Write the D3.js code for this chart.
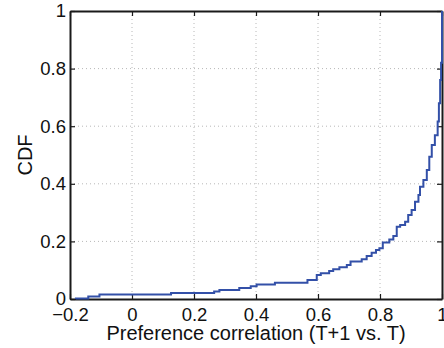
<!DOCTYPE html>
<html>
<head>
<meta charset="utf-8">
<script src="https://cdn.jsdelivr.net/npm/d3@7"></script>
<style>
  body { margin: 0; background: #fff; }
  svg { display: block; font-family: "Liberation Sans", Arial, sans-serif; }
</style>
</head>
<body>
<svg id="chart" width="444" height="348"></svg>
<script>
// correlation value at each step of the empirical CDF, and the CDF after that step
var corr = [-0.181, -0.141, -0.105, 0.126, 0.265, 0.282, 0.346, 0.383, 0.402, 0.461,
    0.566, 0.596, 0.609, 0.636, 0.649, 0.669, 0.693, 0.705, 0.741, 0.757,
    0.773, 0.787, 0.798, 0.809, 0.830, 0.843, 0.854, 0.865, 0.881, 0.891,
    0.902, 0.913, 0.924, 0.929, 0.940, 0.951, 0.959, 0.967, 0.977, 0.986,
    0.990, 0.994, 0.997, 1.0];
var cdf = [0.002, 0.009, 0.016, 0.021, 0.026, 0.031, 0.038, 0.044, 0.050, 0.056,
    0.066, 0.083, 0.089, 0.097, 0.103, 0.110, 0.118, 0.130, 0.138, 0.149,
    0.161, 0.170, 0.176, 0.196, 0.207, 0.219, 0.251, 0.257, 0.268, 0.292,
    0.309, 0.338, 0.361, 0.390, 0.413, 0.448, 0.494, 0.535, 0.569, 0.616,
    0.680, 0.760, 0.820, 1.0];
var xTicks = [-0.2, 0, 0.2, 0.4, 0.6, 0.8, 1];
var yTicks = [0, 0.2, 0.4, 0.6, 0.8, 1];

var svg = d3.select("#chart"),
    margin = { top: 11, right: 2, bottom: 49, left: 70 },
    width = +svg.attr("width") - margin.left - margin.right,
    height = +svg.attr("height") - margin.top - margin.bottom,
    g = svg.append("g").attr("transform", "translate(" + margin.left + "," + margin.top + ")");

var x = d3.scaleLinear().domain([-0.2, 1]).range([0, width]);
var y = d3.scaleLinear().domain([0, 1]).range([height, 0]);

var tickFmt = function (d) { return d === 0 || d === 1 ? String(d) : d.toFixed(1).replace("-", "\u2212"); };

// dotted grid
g.append("g").selectAll("line")
    .data(xTicks.slice(1, -1))
    .enter().append("line")
    .attr("x1", x).attr("x2", x)
    .attr("y1", 0).attr("y2", height)
    .attr("stroke", "#b8b8b8").attr("stroke-dasharray", "1,3");
g.append("g").selectAll("line")
    .data(yTicks.slice(1, -1))
    .enter().append("line")
    .attr("y1", y).attr("y2", y)
    .attr("x1", 0).attr("x2", width)
    .attr("stroke", "#b8b8b8").attr("stroke-dasharray", "1,3");

// axes, MATLAB style box with inward ticks
var xb = g.append("g").attr("transform", "translate(0," + height + ")")
    .call(d3.axisBottom(x).tickValues(xTicks).tickSizeInner(-5).tickSizeOuter(0).tickPadding(9).tickFormat(tickFmt));
var xt = g.append("g")
    .call(d3.axisTop(x).tickValues(xTicks).tickSizeInner(-5).tickSizeOuter(0).tickFormat(""));
var yl = g.append("g")
    .call(d3.axisLeft(y).tickValues(yTicks).tickSizeInner(-5).tickSizeOuter(0).tickPadding(4).tickFormat(tickFmt));
var yr = g.append("g").attr("transform", "translate(" + width + ",0)")
    .call(d3.axisRight(y).tickValues(yTicks).tickSizeInner(-5).tickSizeOuter(0).tickFormat(""));

[xb, xt, yl, yr].forEach(function (a) {
    a.select(".domain").attr("stroke", "#1a1a1a").attr("stroke-width", 2);
    a.selectAll(".tick line").attr("stroke", "#1a1a1a").attr("stroke-width", 1.2);
    a.selectAll("text").attr("font-size", 18.5).attr("fill", "#111")
        .attr("font-family", "'Liberation Sans', Arial, sans-serif");
});

// CDF curve, drawn over the box so the last jump shows on the right edge
var pts = [[corr[0], 0]].concat(corr.map(function (d, i) { return [d, cdf[i]]; }));
g.append("path")
    .datum(pts)
    .attr("fill", "none")
    .attr("stroke", "#3350a8")
    .attr("stroke-width", 2)
    .attr("d", d3.line().x(function (d) { return x(d[0]); }).y(function (d) { return y(d[1]); }).curve(d3.curveStepAfter));

svg.append("text")
    .attr("x", margin.left + width / 2)
    .attr("y", 340)
    .attr("text-anchor", "middle")
    .attr("font-size", 20)
    .attr("fill", "#111")
    .text("Preference correlation (T+1 vs. T)");

svg.append("text")
    .attr("transform", "translate(32," + (margin.top + height / 2) + ")rotate(-90)")
    .attr("text-anchor", "middle")
    .attr("font-size", 20)
    .attr("fill", "#111")
    .text("CDF");
</script>
</body>
</html>
